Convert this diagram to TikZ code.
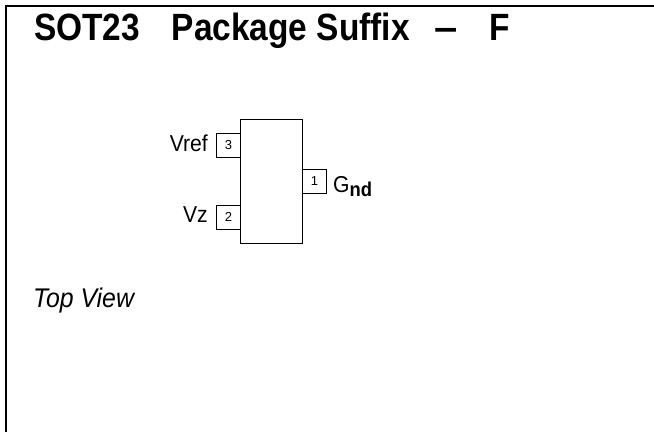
\documentclass[tikz,border=0pt]{standalone}
\usepackage{fontspec}
\setmainfont{Liberation Sans}
\begin{document}
\begin{tikzpicture}[x=1pt,y=-1pt,
  frame/.style={line width=2.5pt},
  body/.style={draw,line width=0.8pt,minimum width=62pt,minimum height=124pt,inner sep=0pt},
  pinbox/.style={draw,line width=0.8pt,minimum width=24pt,minimum height=24pt,inner sep=0pt,font=\fontsize{13}{13}\selectfont},
  pinlabel/.style={inner sep=0pt,font=\fontsize{23}{23}\selectfont,xscale=0.92},
  title/.style={inner sep=0pt,font=\fontsize{38}{38}\bfseries,xscale=0.88},
]
\useasboundingbox (0,0) rectangle (654,432);
\coordinate (tl) at (6,6);
\coordinate (tr) at (654,6);
\coordinate (bl) at (6,432);
\draw[frame] (tr) -- (tl) -- (bl);
\node[title,anchor=base west] (t) at (34,40.5) {SOT23\hspace{36pt}Package Suffix\hspace{28pt}\scalebox{1.25}[1]{–}\hspace{36pt}F};
\node[body,anchor=north west] (b) at (240,119) {};
\node[pinbox,anchor=north west] (p3) at (216,132.5) {3};
\node[pinbox,anchor=north west] (p2) at (216,205) {2};
\node[pinbox,anchor=north west] (p1) at (302,168.5) {1};
\node[pinlabel,anchor=base east] (l3) at (208,151) {Vref};
\node[pinlabel,anchor=base east] (l2) at (208,222) {Vz};
\node[pinlabel,anchor=base west] (l1) at (333,192) {G\raisebox{-4pt}{\fontsize{20}{20}\bfseries nd}};
\node[inner sep=0pt,anchor=base west,font=\fontsize{27}{27}\itshape,xscale=0.92] (tv) at (33,307) {Top View};
\end{tikzpicture}
\end{document}
